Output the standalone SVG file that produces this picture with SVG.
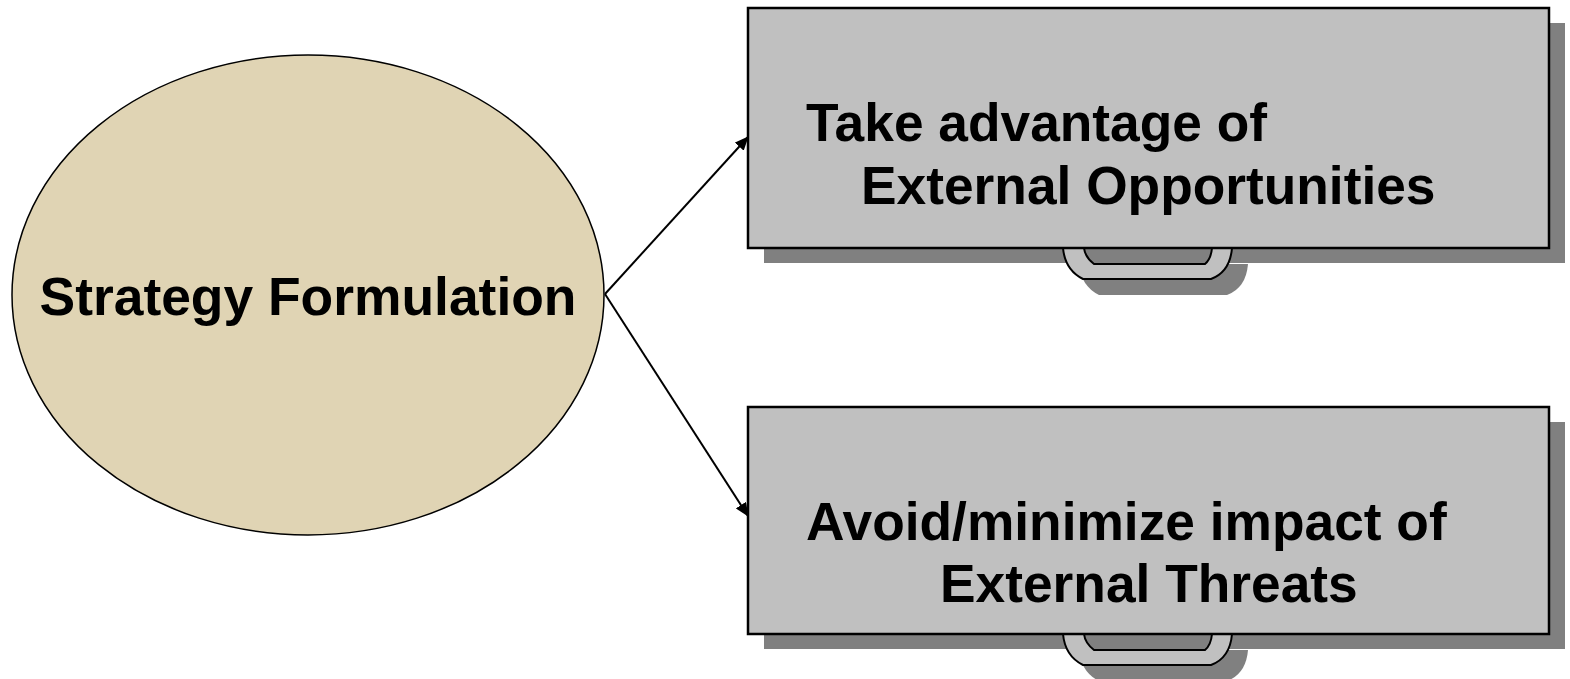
<svg xmlns="http://www.w3.org/2000/svg" xmlns:xlink="http://www.w3.org/1999/xlink" width="1570" height="679" viewBox="0 0 1570 679">
<style>
.lbl{font-family:"Liberation Sans",Arial,sans-serif;font-weight:bold;fill:#000}
.box{fill:#c0c0c0;stroke:#000;stroke-width:2.5}
.shadow{fill:#808080}
.conn{stroke:#000;stroke-width:2;fill:none}
</style>
<defs>
<marker id="ah" markerWidth="14" markerHeight="12" refX="13" refY="6" orient="auto" markerUnits="userSpaceOnUse">
<path d="M0,0 L14,6 L0,12 Z" fill="#000"/>
</marker>
<g id="handleShadow">
<path d="M16,16 Q18,38 36,47 L164,47 Q183,40 185,16 Z" class="shadow"/>
</g>
<g id="handle">
<path d="M0,0 Q2,22 20,31 L148,31 Q167,24 169,0 Z" fill="#c0c0c0" stroke="#000" stroke-width="2"/>
<path d="M21,0 Q22,9 31,16 L142,16 Q148,11 149,0 Z" fill="#808080" stroke="#000" stroke-width="2"/>
</g>
</defs>
<g id="node-strategy">
<ellipse cx="308" cy="295" rx="296" ry="240" fill="#e0d4b4" stroke="#000" stroke-width="1.5"/>
<text class="lbl" x="308" y="315" font-size="53.4" text-anchor="middle">Strategy Formulation</text>
</g>
<g id="node-opportunities">
<rect x="764" y="23" width="801" height="240" class="shadow"/>
<use xlink:href="#handleShadow" x="1063" y="248"/>
<use xlink:href="#handle" x="1063" y="248"/>
<rect x="748" y="8" width="801" height="240" class="box"/>
<text class="lbl" x="806" y="141" font-size="53.3">Take advantage of</text>
<text class="lbl" x="861" y="204" font-size="53.3">External Opportunities</text>
</g>
<g id="node-threats">
<rect x="764" y="422" width="801" height="227" class="shadow"/>
<use xlink:href="#handleShadow" x="1063" y="634"/>
<use xlink:href="#handle" x="1063" y="634"/>
<rect x="748" y="407" width="801" height="227" class="box"/>
<text class="lbl" x="806" y="540" font-size="53.3">Avoid/minimize impact of</text>
<text class="lbl" x="940" y="602" font-size="53.3">External Threats</text>
</g>
<g id="connectors">
<line x1="605" y1="294" x2="748" y2="137" class="conn" marker-end="url(#ah)"/>
<line x1="605" y1="294" x2="748" y2="516" class="conn" marker-end="url(#ah)"/>
</g>
</svg>
